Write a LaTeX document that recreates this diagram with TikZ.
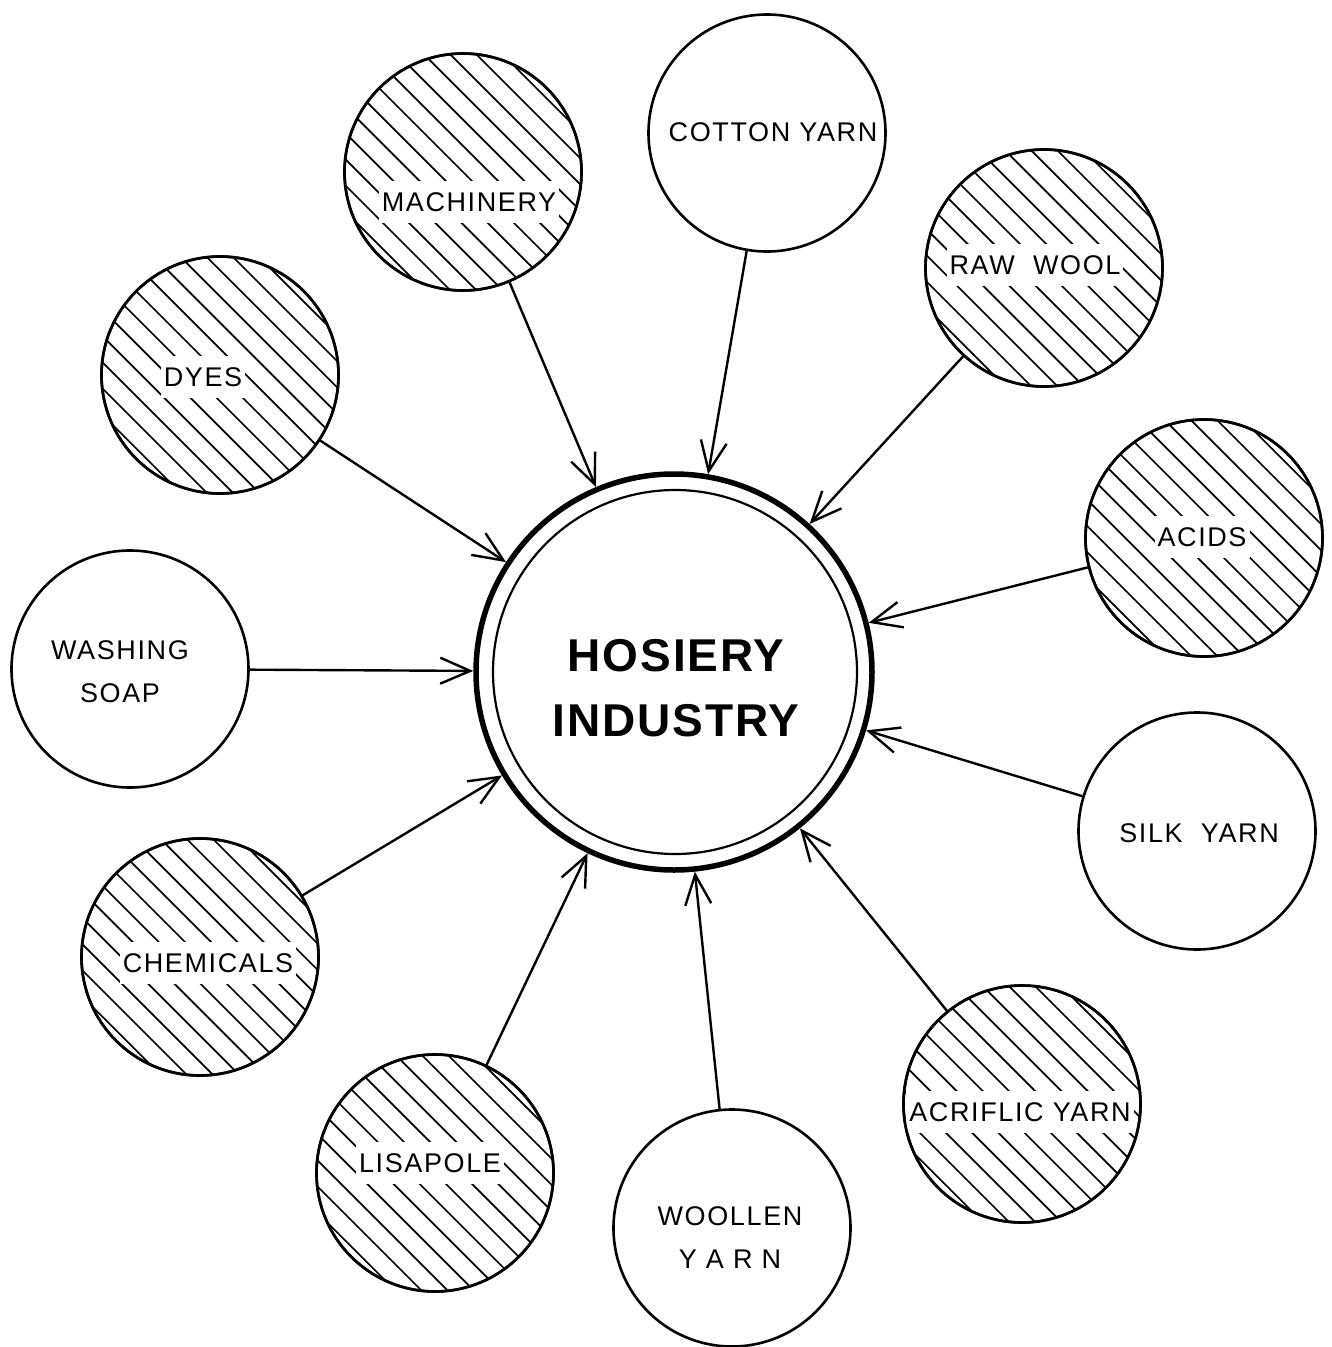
\documentclass[tikz,border=0pt]{standalone}
\usepackage{fontspec}
\setmainfont{Liberation Sans}
\newfontfamily\labfont[LetterSpace=6]{Liberation Sans}
\newfontfamily\hubfont[LetterSpace=4]{Liberation Sans}
\usetikzlibrary{arrows.meta}
\begin{document}
\begin{tikzpicture}[x=1pt,y=-1pt,
  src/.style={circle, draw, line width=2.6pt, minimum size=237pt, inner sep=0pt},
  hatched/.style={src},
  hatchline/.style={line width=1.7pt},
  lab/.style={font=\labfont\fontsize{27}{43}\selectfont, align=center, inner sep=5pt},
  hlab/.style={lab, fill=white, inner xsep=3pt, inner ysep=11pt},
  rim/.style={line width=2.6pt},
  feed/.style={line width=2.4pt, -{Straight Barb[length=30pt,width=26pt,line width=2.4pt]}}
]
\useasboundingbox[fill=white] (0,0) rectangle (1331,1347);

% hub
\node[circle, draw, line width=5.5pt, minimum size=396pt, inner sep=0pt] (hub) at (674,672) {};
\node[circle, draw, line width=2.2pt, minimum size=364pt, inner sep=0pt] (hubin) at (675,672) {};
\node[font=\hubfont\bfseries\fontsize{46}{65}\selectfont, align=center, inner sep=0pt] (hubtext) at (676,688) {HOSIERY\\INDUSTRY};

% source circles
\node[src] (cotton) at (767,133) {};
\node[hatched] (machinery) at (463,172) {};
\node[hatched] (rawwool) at (1044,268) {};
\node[hatched] (dyes) at (220,375) {};
\node[hatched] (acids) at (1204,538) {};
\node[src] (soap) at (130,669) {};
\node[src] (silk) at (1197,831) {};
\node[hatched] (chem) at (200,957) {};
\node[hatched] (acri) at (1022,1104) {};
\node[hatched] (lisa) at (435,1173) {};
\node[src] (woollen) at (732,1228) {};

% hatching
\foreach \s in {machinery,rawwool,dyes,acids,chem,acri,lisa}{
  \begin{scope}
    \clip (\s.center) circle (118.5);
    \foreach \k in {-7,...,7}
      \draw[hatchline, shift={(\s.center)}] (\k*26.2-200,-200) -- ++(400,400);
  \end{scope}
}

% labels
\node[lab] (cottonlab) at (773,132) {COTTON YARN};
\node[hlab] (machlab) at (469,202) {MACHINERY};
\node[hlab] (rawlab) at (1035,265) {RAW\ \ WOOL};
\node[hlab] (dyeslab) at (203,377) {DYES};
\node[hlab] (acidslab) at (1202,537) {ACIDS};
\node[lab] (soaplab) at (120,671.5) {WASHING\\SOAP};
\node[lab] (silklab) at (1199,833) {SILK\ \ YARN};
\node[hlab] (chemlab) at (208,963) {CHEMICALS};
\node[hlab] (acrilab) at (1020,1112) {ACRIFLIC YARN};
\node[hlab] (lisalab) at (430,1163) {LISAPOLE};
\node[lab] (woollab) at (730,1237.5) {WOOLLEN\\Y A R N};

% redraw rims of hatched circles over hatching and label bands
\foreach \s in {machinery,rawwool,dyes,acids,chem,acri,lisa}
  \draw[rim] (\s.center) circle (118.5);

% connectors
\foreach \s in {cotton,machinery,rawwool,dyes,acids,soap,silk,chem,acri,lisa,woollen}
  \draw[feed] (\s) -- (hub);
\end{tikzpicture}
\end{document}
